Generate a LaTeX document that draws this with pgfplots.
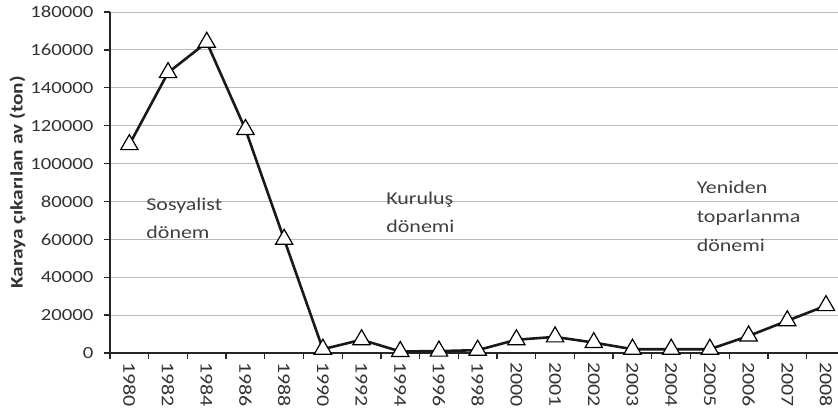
\documentclass[border=0pt]{standalone}
\usepackage{fontspec}
\setmainfont{Carlito}[FakeStretch=1.22]
\usepackage{pgfplots}
\pgfplotsset{compat=1.18}
\begin{document}
\begin{tikzpicture}
\begin{axis}[
  scale only axis, width=728bp, height=341bp,
  xmin=-0.5, xmax=18.31, ymin=0, ymax=180000,
  axis x line=bottom, axis y line=left,
  axis line style={-, line width=1.8bp, black!85},
  clip=false,
  xtick={0,...,18},
  xticklabels={1980,1982,1984,1986,1988,1990,1992,1994,1996,1998,2000,2001,2002,2003,2004,2005,2006,2007,2008},
  major x tick style={draw=none},
  minor xtick={-0.5,0.5,...,18.5},
  minor x tick style={line width=1.3bp, black!85},
  minor tick length=6bp,
  major tick length=6bp,
  tick align=outside,
  ytick={0,20000,...,180000},
  y tick style={line width=1.3bp, black!85},
  scaled y ticks=false,
  /pgf/number format/assume math mode=true,
  yticklabel style={/pgf/number format/fixed, /pgf/number format/1000 sep={}, font=\fontsize{17bp}{20bp}\selectfont, text=black!80, xshift=-7bp},
  xticklabel style={font=\fontsize{18bp}{21bp}\selectfont, text=black!80, rotate=-90, anchor=west, xshift=0bp},
  ymajorgrids, grid style={gray!55, line width=0.9bp},
  ylabel={\bfseries Karaya çıkarılan av (ton)},
  ylabel style={font=\fontsize{17.5bp}{20bp}\selectfont, text=black!80, yshift=-2bp},
]
\addplot[black!90, line width=2.6bp, mark=triangle*, mark size=10bp,
  mark options={fill=white, draw=black, line width=1.2bp, solid}]
  coordinates {
  (0,110000) (1,148000) (2,164000) (3,118000) (4,60000) (5,2000)
  (6,7000) (7,800) (8,1000) (9,1500) (10,7000) (11,8500) (12,5500)
  (13,2000) (14,2000) (15,2000) (16,9000) (17,17000) (18,25000)
  };
\node[anchor=west, align=left, text=black!75, font=\fontsize{18bp}{28bp}\selectfont] at (axis cs:0.35,71000) {Sosyalist\\dönem};
\node[anchor=west, align=left, text=black!75, font=\fontsize{18bp}{28bp}\selectfont] at (axis cs:6.55,74000) {Kuruluş\\dönemi};
\node[anchor=west, align=left, text=black!75, font=\fontsize{18bp}{29bp}\selectfont] at (axis cs:14.57,72000) {Yeniden\\toparlanma\\dönemi};
\end{axis}
\pgfresetboundingbox
\path ([shift={(-110bp,-63bp)}]current axis.south west) rectangle ([shift={(0bp,12bp)}]current axis.north east);
\end{tikzpicture}
\end{document}
